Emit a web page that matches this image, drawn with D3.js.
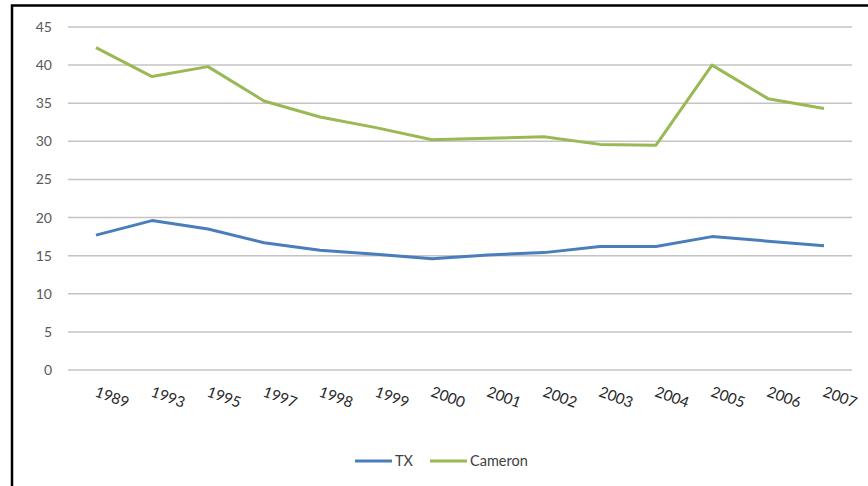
<!DOCTYPE html>
<html><head><meta charset="utf-8">
<script src="https://cdn.jsdelivr.net/npm/d3@7"></script>
<style>body{margin:0;background:#fff}svg{display:block}</style>
</head><body>
<svg id="chart" width="868" height="486"></svg>
<script>
const years = ["1989","1993","1995","1997","1998","1999","2000","2001","2002","2003","2004","2005","2006","2007"];
const txValues = [17.7,19.6,18.5,16.7,15.7,15.2,14.6,15.1,15.4,16.2,16.2,17.5,16.9,16.3];
const cameronValues = [42.3,38.5,39.8,35.3,33.2,31.8,30.2,30.4,30.6,29.6,29.5,40.0,35.6,34.3];
const yTicks = [0,5,10,15,20,25,30,35,40,45];
const seriesNames = ["TX","Cameron"];
const seriesColors = ["#4a7ebb","#98b954"];

const svg = d3.select("#chart");
const font = "Lato, 'Open Sans', sans-serif";

// frame
svg.append("rect").attr("x",12).attr("y",5.5).attr("width",870).attr("height",500)
  .attr("fill","none").attr("stroke","#000").attr("stroke-width",2.5);

const x = d3.scaleBand().domain(years).range([68,852]);
const y = d3.scaleLinear().domain([0,45]).range([370,27]);

// gridlines
svg.append("g").selectAll("line").data(yTicks).join("line")
  .attr("x1",68).attr("x2",852).attr("y1",d=>y(d)).attr("y2",d=>y(d))
  .attr("stroke","#c4c4c4").attr("stroke-width",1.5);

// y axis
const yAxis = d3.axisLeft(y).tickValues(yTicks).tickSize(0).tickPadding(0);
const gy = svg.append("g").attr("transform","translate(52,0)").call(yAxis);
gy.select(".domain").remove();
gy.selectAll("text").attr("fill","#595959").style("font-family",font).style("font-size","14px");

// x axis labels
const xAxis = d3.axisBottom(x).tickSize(0).tickPadding(0);
const gx = svg.append("g").attr("transform","translate(0,370)").call(xAxis);
gx.select(".domain").remove();
gx.selectAll(".tick text")
  .attr("text-anchor","start").attr("dy",0).attr("y",0)
  .attr("transform","translate(-2,26) rotate(20)")
  .attr("fill","#262626").style("font-family",font).style("font-size","15px");

// lines
const line = d3.line().x((d,i)=>x(years[i])+x.bandwidth()/2).y(d=>y(d));
[txValues,cameronValues].forEach((vals,i)=>{
  svg.append("path").datum(vals).attr("d",line)
    .attr("fill","none").attr("stroke",seriesColors[i]).attr("stroke-width",3)
    .attr("stroke-linejoin","round");
});

// legend
const legendX = [355,430];
seriesNames.forEach((n,i)=>{
  const g = svg.append("g").attr("transform",`translate(${legendX[i]},461)`);
  g.append("line").attr("x1",0).attr("x2",37).attr("y1",0).attr("y2",0)
    .attr("stroke",seriesColors[i]).attr("stroke-width",3);
  g.append("text").attr("x",40).attr("y",5).text(n)
    .attr("fill","#404040").style("font-family",font).style("font-size","14.5px");
});
</script>
</body></html>
